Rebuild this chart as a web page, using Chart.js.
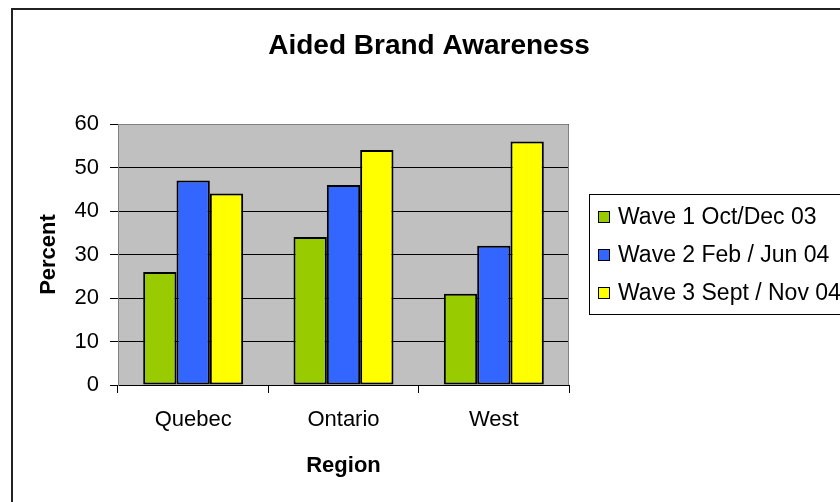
<!DOCTYPE html>
<html>
<head>
<meta charset="utf-8">
<script src="https://cdn.jsdelivr.net/npm/chart.js@4/dist/chart.umd.min.js"></script>
<style>
  html, body { margin: 0; padding: 0; background: #fff; }
  #wrap { width: 840px; height: 502px; }
</style>
</head>
<body>
<div id="wrap"><canvas id="awareChart" width="840" height="502"></canvas></div>
<script>
// data
const regions = ["Quebec", "Ontario", "West"];
const waveNames = ["Wave 1 Oct/Dec 03", "Wave 2 Feb / Jun 04", "Wave 3 Sept / Nov 04"];
const wave1 = [26, 34, 21];
const wave2 = [47, 46, 32];
const wave3 = [44, 54, 56];
const yTicks = [0, 10, 20, 30, 40, 50, 60];

const FONT = "'Liberation Sans', Arial, sans-serif";
const waveColors = ["#99CC00", "#3366FF", "#FFFF00"];

/* ── frame, plot background, title, legend ── */
const excelLook = {
  id: "excelLook",
  beforeDraw(chart) {
    const { ctx, chartArea: a } = chart;
    ctx.save();
    ctx.fillStyle = "#fff";
    ctx.fillRect(0, 0, chart.width, chart.height);
    ctx.fillStyle = "#C0C0C0";
    ctx.fillRect(a.left, a.top, a.right - a.left, a.bottom - a.top);
    ctx.restore();
  },
  afterDraw(chart) {
    const { ctx, chartArea: a } = chart;
    ctx.save();
    // outer frame (runs off right/bottom like the original)
    ctx.strokeStyle = "#222";
    ctx.lineWidth = 2;
    ctx.strokeRect(12, 9, 900, 600);

    // plot edge top/right
    ctx.strokeStyle = "#808080";
    ctx.lineWidth = 1;
    ctx.beginPath();
    ctx.moveTo(a.left, a.top + 0.5);
    ctx.lineTo(a.right - 0.5, a.top + 0.5);
    ctx.lineTo(a.right - 0.5, a.bottom);
    ctx.stroke();

    // title
    ctx.fillStyle = "#000";
    ctx.font = "bold 28px " + FONT;
    ctx.textAlign = "center";
    ctx.textBaseline = "middle";
    ctx.fillText("Aided Brand Awareness", 429, 46);

    // legend box
    ctx.strokeStyle = "#000";
    ctx.lineWidth = 1;
    ctx.strokeRect(589.5, 194.5, 300, 120);
    ctx.font = "23px " + FONT;
    ctx.textAlign = "left";
    chart.data.datasets.forEach((ds, i) => {
      const y = 217 + i * 38;
      ctx.fillStyle = ds.backgroundColor;
      ctx.fillRect(598, y - 6, 12, 12);
      ctx.strokeStyle = "#000";
      ctx.strokeRect(598.5, y - 5.5, 11, 11);
      ctx.fillStyle = "#000";
      ctx.fillText(ds.label, 618, y + 1);
    });
    ctx.restore();
  },
};

const datasets = [wave1, wave2, wave3].map((vals, i) => ({
  label: waveNames[i],
  data: vals,
  backgroundColor: waveColors[i],
  borderColor: "#000",
  borderWidth: 2,
  borderSkipped: false,
  barPercentage: 1,
  categoryPercentage: 0.665,
}));

new Chart(document.getElementById("awareChart"), {
  type: "bar",
  data: { labels: regions, datasets },
  plugins: [excelLook],
  options: {
    responsive: false,
    animation: false,
    devicePixelRatio: 1,
    layout: { padding: { top: 124, left: 36, right: 271, bottom: 23 } },
    plugins: {
      legend: { display: false },
      title: { display: false },
      tooltip: { enabled: false },
    },
    scales: {
      x: {
        grid: { offset: true, drawOnChartArea: false, color: "#000", tickLength: 8 },
        border: { color: "#000", width: 1 },
        ticks: { color: "#000", font: { family: FONT, size: 22 }, padding: 14 },
        title: {
          display: true,
          text: "Region",
          color: "#000",
          font: { family: FONT, size: 22, weight: "bold" },
          padding: 0,
        },
        afterFit(scale) { scale.height = 94; },
      },
      y: {
        min: yTicks[0],
        max: yTicks[yTicks.length - 1],
        afterBuildTicks(scale) { scale.ticks = yTicks.map(v => ({ value: v })); },
        grid: { color: "#000", tickLength: 8 },
        border: { color: "#808080", width: 1 },
        ticks: { color: "#000", font: { family: FONT, size: 22 }, padding: 11 },
        title: {
          display: true,
          text: "Percent",
          color: "#000",
          font: { family: FONT, size: 22, weight: "bold" },
          padding: 0,
        },
        afterFit(scale) { scale.width = 82; },
      },
    },
  },
});
</script>
</body>
</html>
